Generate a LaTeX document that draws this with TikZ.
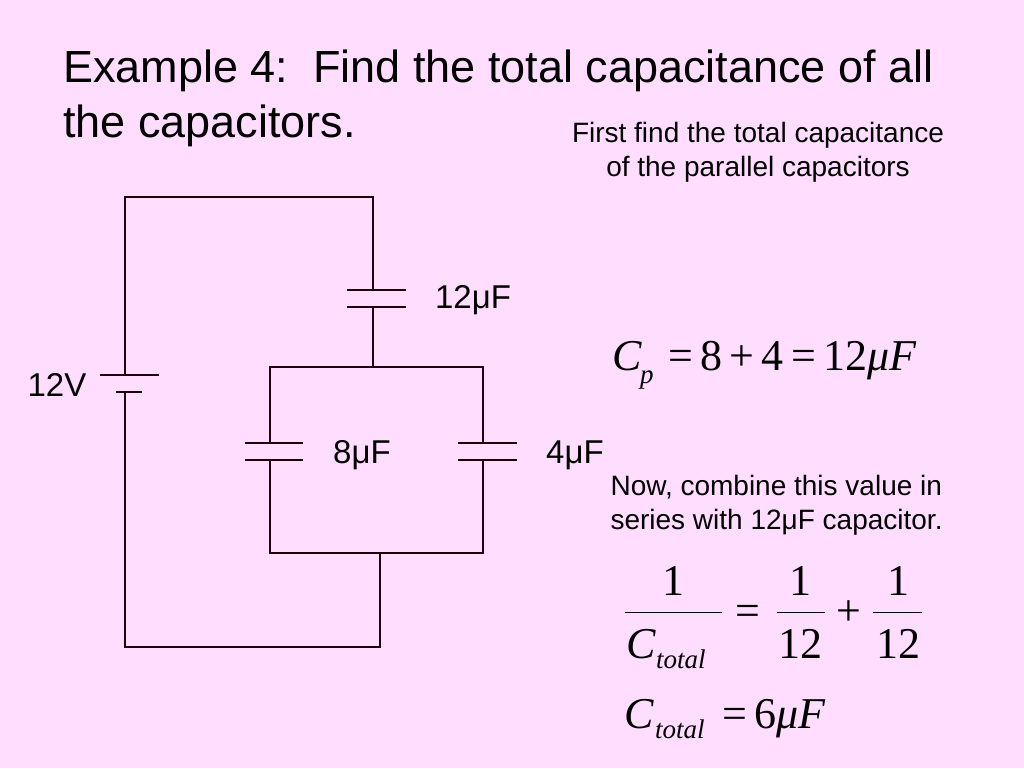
\documentclass[tikz,border=0pt]{standalone}
\usepackage{fontspec}
\setmainfont{Liberation Sans}
\newfontfamily\tnr{Liberation Serif}
\definecolor{bg}{RGB}{255,221,255}
\begin{document}
\begin{tikzpicture}[x=1pt,y=-1pt,
  wire/.style={draw=black!85!purple,line width=1.1pt},
  lbl/.style={font=\fontsize{33}{40}\selectfont},
  note/.style={font=\fontsize{28}{34}\selectfont,align=center},
  eq/.style={font=\tnr\fontsize{44}{50}\selectfont,inner sep=0pt},
  sub/.style={font=\tnr\itshape\fontsize{27}{30}\selectfont,inner sep=0pt}]
\fill[bg] (0,0) rectangle (1024,768);
\useasboundingbox (0,0) rectangle (1024,768);
\node[anchor=north west,align=left,font=\fontsize{45}{55}\selectfont,inner sep=0pt] (title) at (63,50) {Example 4:\ \ Find the total capacitance of all\\the capacitors.};
\node[note] (n1) at (758,152) {First find the total capacitance\\of the parallel capacitors};
\node[note,align=left,anchor=west] (n2) at (607,505) {Now, combine this value in\\series with 12μF capacitor.};
% circuit
\coordinate (bt) at (125,375); \coordinate (bb) at (125,392);
\draw[wire] (bt) -- (125,197) -- (373,197) -- (373,290);
\draw[wire] (100,375) -- (159,375);
\draw[wire] (116,392) -- (142,392);
\draw[wire] (347,290) -- (406,290); \draw[wire] (347,307) -- (406,307);
\draw[wire] (373,307) -- (373,367);
\draw[wire] (270,443) -- (270,367) -- (483,367) -- (483,443);
\draw[wire] (245,443) -- (303,443); \draw[wire] (245,460) -- (303,460);
\draw[wire] (458,443) -- (517,443); \draw[wire] (458,460) -- (517,460);
\draw[wire] (270,460) -- (270,553) -- (483,553) -- (483,460);
\draw[wire] (380,553) -- (380,647) -- (125,647) -- (bb);
\node[lbl] (l12) at (473,300) {12μF};
\node[lbl] (l8) at (362,455) {8μF};
\node[lbl] (l4) at (575,455) {4μF};
\node[lbl] (lv) at (57,385) {12V};
% equations
\node[eq,anchor=base west] (cp) at (612,370) {\itshape C};
\node[sub,anchor=base west] at (640,383) {p};
\node[eq,anchor=base west] at (668,370) {=\,8\,+\,4\,=\,12\textit{μF}};
\node[eq,anchor=base] (a1) at (673,595) {1};
\draw[line width=1pt] (625,612) -- (722,612);
\node[eq,anchor=base west] (ct) at (626,658) {\itshape C};
\node[sub,anchor=base west] at (656,668) {total};
\node[eq,anchor=base] at (748,625) {=};
\node[eq,anchor=base] at (800,595) {1};
\draw[line width=1pt] (777,612) -- (825,612);
\node[eq,anchor=base] at (800,658) {12};
\node[eq,anchor=base] at (849,625) {+};
\node[eq,anchor=base] at (898,595) {1};
\draw[line width=1pt] (873,612) -- (922,612);
\node[eq,anchor=base] at (898,658) {12};
\node[eq,anchor=base west] at (624,728) {\itshape C};
\node[sub,anchor=base west] at (655,738) {total};
\node[eq,anchor=base west] at (722,728) {=\,6\textit{μF}};
\end{tikzpicture}
\end{document}
